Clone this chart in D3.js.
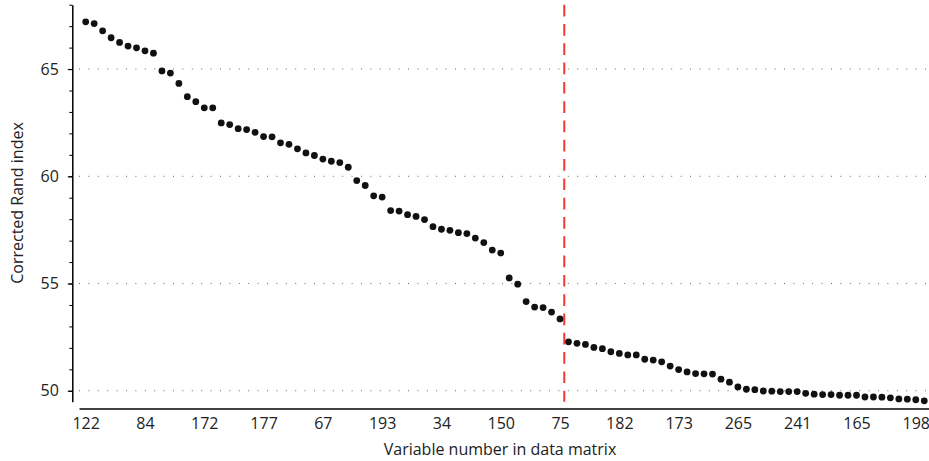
<!DOCTYPE html>
<html>
<head>
<meta charset="utf-8">
<script src="https://cdn.jsdelivr.net/npm/d3@7"></script>
<style>
  body { margin: 0; background: #fff; }
  text { font-family: "Open Sans", sans-serif; }
</style>
</head>
<body>
<div id="my_dataviz"></div>
<script>
// corrected Rand index, one value per variable, sorted
var randIndex = [
  67.20, 67.12, 66.78, 66.46, 66.24, 66.07, 65.99, 65.85, 65.74, 64.91,
  64.81, 64.33, 63.71, 63.48, 63.19, 63.19, 62.49, 62.41, 62.22, 62.18,
  62.05, 61.85, 61.84, 61.56, 61.49, 61.28, 61.09, 60.97, 60.80, 60.70,
  60.64, 60.42, 59.80, 59.57, 59.09, 59.03, 58.40, 58.38, 58.21, 58.13,
  57.98, 57.65, 57.53, 57.48, 57.37, 57.33, 57.12, 56.91, 56.56, 56.42,
  55.26, 54.97, 54.16, 53.90, 53.88, 53.67, 53.35, 52.28, 52.21, 52.16,
  52.02, 51.96, 51.82, 51.74, 51.67, 51.67, 51.47, 51.43, 51.35, 51.15,
  50.99, 50.88, 50.80, 50.79, 50.78, 50.54, 50.40, 50.18, 50.07, 50.05,
  49.99, 49.98, 49.96, 49.96, 49.96, 49.88, 49.84, 49.82, 49.82, 49.79,
  49.79, 49.79, 49.71, 49.71, 49.70, 49.67, 49.62, 49.61, 49.58, 49.53
];

// variable numbers shown on the x axis (every 7th variable)
var tickLabels = ["122", "84", "172", "177", "67", "193", "34", "150", "75",
                  "182", "173", "265", "241", "165", "198"];
var tickEvery = 7;

// cut between variable 56 and 57
var cutAfter = 56;

var majorTicks = [50, 55, 60, 65];
var minorTicks = d3.range(50, 69);

var width = 929, height = 461;

var svg = d3.select("#my_dataviz")
  .append("svg")
    .attr("width", width)
    .attr("height", height);

var x = d3.scaleLinear()
  .domain([-0.79, randIndex.length - 0.44])
  .range([79, 929]);

var y = d3.scaleLinear()
  .domain([49.49, 68])
  .range([401.7, 4.7]);

// dotted grid lines
svg.selectAll("gridline")
  .data(majorTicks)
  .enter()
  .append("line")
    .attr("x1", 79)
    .attr("x2", 929)
    .attr("y1", function(d) { return y(d); })
    .attr("y2", function(d) { return y(d); })
    .attr("stroke", "#666")
    .attr("stroke-width", 1)
    .attr("stroke-dasharray", "1,8.4");

// X axis
var xAxis = svg.append("g")
  .attr("transform", "translate(0,408.5)")
  .call(d3.axisBottom(x)
    .tickValues(d3.range(0, tickLabels.length).map(function(i) { return i * tickEvery; }))
    .tickFormat(function(d) { return tickLabels[d / tickEvery]; })
    .tickSize(0)
    .tickPadding(9));
xAxis.select(".domain").attr("stroke", "#000").attr("stroke-width", 1.5);
xAxis.selectAll("text")
  .attr("font-size", 16)
  .attr("font-family", "Open Sans")
  .attr("fill", "#222");

// Y axis: minor ticks
var yMinor = svg.append("g")
  .attr("transform", "translate(72.3,0)")
  .call(d3.axisLeft(y)
    .tickValues(minorTicks)
    .tickFormat("")
    .tickSizeInner(3)
    .tickSizeOuter(0));
yMinor.select(".domain").attr("stroke", "#000").attr("stroke-width", 1.5);
yMinor.selectAll(".tick line").attr("stroke", "#000");

// Y axis: major ticks with labels
var yMajor = svg.append("g")
  .attr("transform", "translate(72.3,0)")
  .call(d3.axisLeft(y)
    .tickValues(majorTicks)
    .tickSizeInner(4.5)
    .tickSizeOuter(0)
    .tickPadding(9));
yMajor.select(".domain").remove();
yMajor.selectAll(".tick line").attr("stroke", "#000").attr("stroke-width", 1.2);
yMajor.selectAll("text")
  .attr("font-size", 16)
  .attr("font-family", "Open Sans")
  .attr("fill", "#222");

// red dashed cut line
svg.append("line")
  .attr("x1", x(cutAfter + 0.5))
  .attr("x2", x(cutAfter + 0.5))
  .attr("y1", y.range()[1])
  .attr("y2", y.range()[0])
  .attr("stroke", "#f03a32")
  .attr("stroke-width", 2)
  .attr("stroke-dasharray", "11.7,7.6");

// points
svg.selectAll("mydot")
  .data(randIndex)
  .enter()
  .append("circle")
    .attr("cx", function(d, i) { return x(i); })
    .attr("cy", function(d) { return y(d); })
    .attr("r", 3.4)
    .attr("fill", "#111");

// axis titles
svg.append("text")
  .attr("x", 500)
  .attr("y", 455)
  .attr("text-anchor", "middle")
  .attr("font-size", 16)
  .attr("fill", "#222")
  .text("Variable number in data matrix");

svg.append("text")
  .attr("transform", "translate(23,203)rotate(-90)")
  .attr("text-anchor", "middle")
  .attr("font-size", 16)
  .attr("fill", "#222")
  .text("Corrected Rand index");
</script>
</body>
</html>
